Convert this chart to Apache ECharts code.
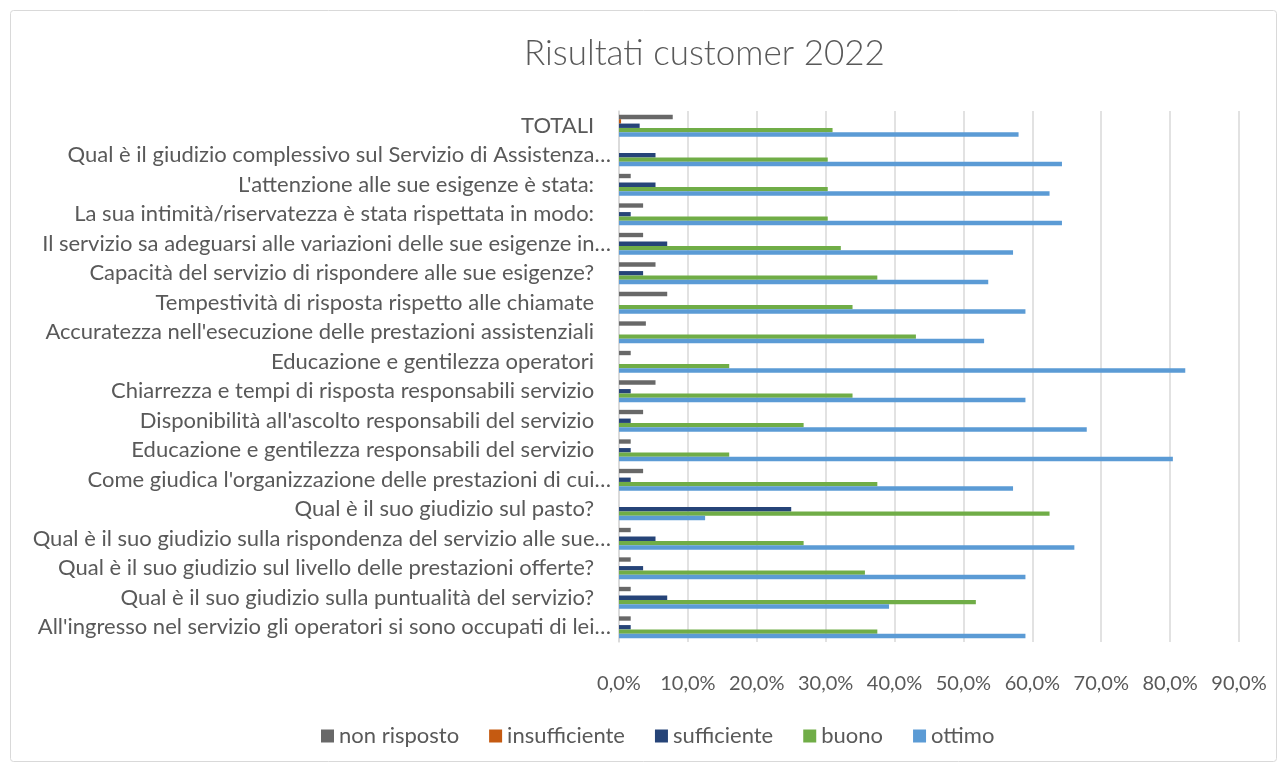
<!DOCTYPE html>
<html>
<head>
<meta charset="utf-8">
<script src="https://cdn.jsdelivr.net/npm/echarts@6/dist/echarts.min.js"></script>
<style>
html,body{margin:0;padding:0;background:#fff;}
#chart{width:1282px;height:764px;}
</style>
</head>
<body>
<div id="chart"></div>
<script>
const categories = [
  "TOTALI",
  "Qual è il giudizio complessivo sul Servizio di Assistenza…",
  "L'attenzione alle sue esigenze è stata:",
  "La sua intimità/riservatezza è stata rispettata in modo:",
  "Il servizio sa adeguarsi alle variazioni delle sue esigenze in…",
  "Capacità del servizio di rispondere alle sue esigenze?",
  "Tempestività di risposta rispetto alle chiamate",
  "Accuratezza nell'esecuzione delle prestazioni assistenziali",
  "Educazione e gentilezza operatori",
  "Chiarrezza e tempi di risposta responsabili servizio",
  "Disponibilità all'ascolto responsabili del servizio",
  "Educazione e gentilezza responsabili del servizio",
  "Come giudica l'organizzazione delle prestazioni di cui…",
  "Qual è il suo giudizio sul pasto?",
  "Qual è il suo giudizio sulla rispondenza del servizio alle sue…",
  "Qual è il suo giudizio sul livello delle prestazioni offerte?",
  "Qual è il suo giudizio sulla puntualità del servizio?",
  "All'ingresso nel servizio gli operatori si sono occupati di lei…"
];
const seriesNames = ["non risposto", "insufficiente", "sufficiente", "buono", "ottimo"];
const nonRisposto   = [7.8, 0,   1.7, 3.5, 3.5, 5.3, 7.0, 3.9, 1.7, 5.3, 3.5, 1.7, 3.5, 0,    1.7, 1.7, 1.7, 1.7];
const insufficiente = [0.3, 0,   0,   0,   0,   0,   0,   0,   0,   0,   0,   0,   0,   0,    0,   0,   0,   0];
const sufficiente   = [3.0, 5.3, 5.3, 1.7, 7.0, 3.5, 0,   0,   0,   1.7, 1.7, 1.7, 1.7, 25.0, 5.3, 3.5, 7.0, 1.7];
const buono         = [31.0,30.3,30.3,30.3,32.2,37.5,33.9,43.1,16.0,33.9,26.8,16.0,37.5,62.5, 26.8,35.7,51.8,37.5];
const ottimo        = [58.0,64.3,62.5,64.3,57.2,53.6,59.0,53.0,82.2,59.0,67.9,80.4,57.2,12.5, 66.1,59.0,39.2,59.0];
const xTicks = [0,10,20,30,40,50,60,70,80,90];

const colors = ["#686868", "#C55A11", "#264478", "#70AD47", "#5B9BD5"];
const values = [nonRisposto, insufficiente, sufficiente, buono, ottimo];
const FONT = "Lato";
const TXT = "#595959";

const chart = echarts.init(document.getElementById('chart'), null, {renderer:'canvas'});
chart.setOption({
  animation: false,
  backgroundColor: '#ffffff',
  textStyle: {fontFamily: FONT},
  graphic: [{
    type: 'rect', left: 8, top: 8,
    shape: {width: 1266, height: 751, r: 3},
    style: {fill: 'none', stroke: '#d9d9d9', lineWidth: 1}
  }],
  title: {
    text: 'Risultati customer 2022',
    left: 519, top: 31,
    textStyle: {fontFamily: FONT, fontWeight: 300, fontSize: 35, color: TXT}
  },
  legend: {
    data: seriesNames,
    bottom: 12, left: 316,
    icon: 'rect', itemWidth: 13, itemHeight: 13, itemGap: 30,
    textStyle: {fontFamily: FONT, fontSize: 22, color: TXT}
  },
  grid: {left: 619, right: 43, top: 111, bottom: 122, containLabel: false},
  xAxis: {
    type: 'value', min: 0, max: 90, interval: 10,
    axisLine: {show: false}, axisTick: {show: false},
    splitLine: {lineStyle: {color: '#d9d9d9', width: 1.5}},
    axisLabel: {
      fontFamily: FONT, fontSize: 20, color: TXT, margin: 32,
      formatter: v => xTicks.includes(v) ? v.toFixed(1).replace('.', ',') + '%' : ''
    }
  },
  yAxis: {
    type: 'category', data: categories, inverse: true,
    axisLine: {show: true, lineStyle: {color: '#d9d9d9', width: 1.5}},
    axisTick: {show: false},
    axisLabel: {
      fontFamily: FONT, fontSize: 22, color: TXT, margin: 8,
      formatter: s => s.endsWith('…') ? s : s + '   '
    }
  },
  series: seriesNames.map((name, i) => ({
    name, type: 'bar', data: values[i],
    barGap: '0%', barCategoryGap: '26%',
    itemStyle: {color: colors[i]}
  }))
});
</script>
</body>
</html>
